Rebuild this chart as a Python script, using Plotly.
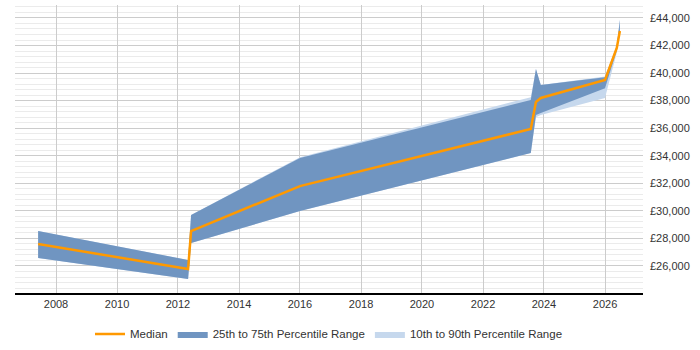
import plotly.graph_objects as go

dates = ["2007-06-01", "2012-05-01", "2012-06-06", "2016-01-01", "2023-07-27",
         "2023-09-27", "2023-11-24", "2026-01-01", "2026-05-22", "2026-06-28"]
p10 = [26580, 25060, 27670, 29990, 34200, 36800, 36950, 38190, 41500, 43000]
p25 = [26580, 25060, 27670, 29990, 34200, 36958, 37103, 38900, 41650, 43000]
median = [27600, 25780, 28540, 31800, 35942, 37900, 38192, 39500, 41820, 43050]
p75 = [28540, 26435, 29700, 33840, 38046, 40296, 39135, 39700, 41950, 43850]
p90 = [28540, 26435, 29700, 33900, 38250, 40296, 39135, 39750, 42000, 43900]

light = "#c6d8ed"
dark = "#7095c1"
orange = "#ff9900"

fig = go.Figure()
fig.add_trace(go.Scatter(x=dates, y=p10, mode="lines", line=dict(width=0, color=light),
                         showlegend=False, hoverinfo="skip"))
fig.add_trace(go.Scatter(x=dates, y=p90, mode="lines", line=dict(width=0, color=light),
                         fill="tonexty", fillcolor=light, name="10th to 90th Percentile Range",
                         legendrank=3))
fig.add_trace(go.Scatter(x=dates, y=p25, mode="lines", line=dict(width=0, color=dark),
                         showlegend=False, hoverinfo="skip"))
fig.add_trace(go.Scatter(x=dates, y=p75, mode="lines", line=dict(width=0, color=dark),
                         fill="tonexty", fillcolor=dark, name="25th to 75th Percentile Range",
                         legendrank=2))
fig.add_trace(go.Scatter(x=dates, y=median, mode="lines", line=dict(width=2.5, color=orange),
                         name="Median", legendrank=1))

fig.update_layout(
    width=700, height=350,
    margin=dict(l=15, r=57, t=5, b=57, autoexpand=False),
    paper_bgcolor="white", plot_bgcolor="white",
    font=dict(family="Liberation Sans, Arial, sans-serif", size=11, color="#333333"),
    legend=dict(orientation="h", x=0.5, xanchor="center", yref="container", y=0.046, yanchor="middle",
                font=dict(size=11.5, color="#333333"), traceorder="normal", itemwidth=30),
    showlegend=True,
)
fig.update_xaxes(
    type="date", range=["2006-08-28", "2027-04-01"],
    tick0="2008-01-01", dtick="M24", tickformat="%Y",
    showgrid=True, gridcolor="#cccccc", gridwidth=1,
    showline=True, linecolor="#000000", linewidth=1.5,
    ticks="", zeroline=False,
)
fig.update_yaxes(
    side="right", range=[24040, 44940],
    tick0=0, dtick=2000, tickprefix="£", tickformat=",d",
    showgrid=True, gridcolor="#cccccc", gridwidth=1,
    minor=dict(dtick=400, showgrid=True, gridcolor="#ebebeb", gridwidth=1),
    showline=False, zeroline=False, ticks="", ticklabelstandoff=6,
)

fig.write_html("out.html")
